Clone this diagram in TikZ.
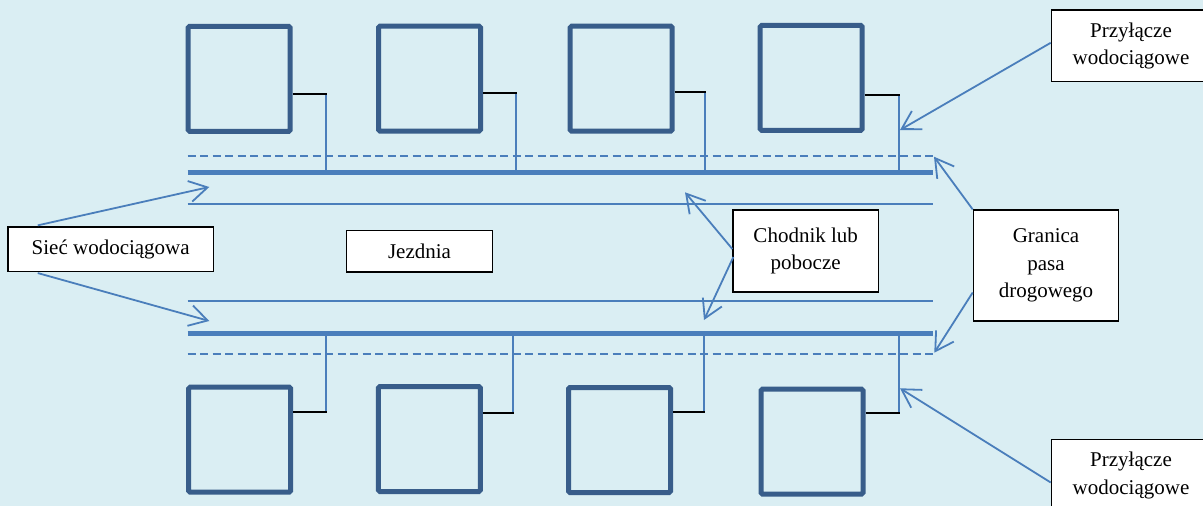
\documentclass[tikz,border=0pt]{standalone}
\usepackage{fontspec}
\setmainfont{Liberation Serif}
\usetikzlibrary{arrows.meta,calc}
\definecolor{bgcol}{HTML}{DAEEF3}
\definecolor{pipecol}{HTML}{4A7EBB}
\definecolor{housecol}{HTML}{385D8A}
\begin{document}
\begin{tikzpicture}[x=1pt,y=-1pt,
  housebox/.style={draw=housecol, line width=5pt, rounded corners=1.5pt, minimum width=102pt, minimum height=105pt, inner sep=0pt},
  textbox/.style={draw=black, line width=1.2pt, fill=white, inner sep=0pt, align=center, font=\fontsize{21}{27.5}\selectfont},
  stubline/.style={draw=black, line width=1.8pt},
  tapline/.style={draw=pipecol, line width=1.8pt},
  mainpipe/.style={draw=pipecol, line width=4.5pt},
  curbline/.style={draw=pipecol, line width=1.8pt},
  limitline/.style={draw=pipecol, line width=1.8pt, dash pattern=on 8pt off 4.5pt},
  pointer/.style={draw=pipecol, line width=1.8pt, -{Straight Barb[length=18pt,width=21pt,line width=1.8pt]}}
]
\clip (0,0) rectangle (1203,506);
\fill[bgcol] (0,0) rectangle (1203,506);

% coordinates of lines
\coordinate (pA) at (187.7,172.3); \coordinate (pB) at (932.7,172.3);
\coordinate (qA) at (187.7,333.7); \coordinate (qB) at (932.7,333.7);
\coordinate (dA) at (187.7,156);   \coordinate (dB) at (932.7,156);
\coordinate (eA) at (187.7,354);   \coordinate (eB) at (932.7,354);
\coordinate (cA) at (187.7,204);   \coordinate (cB) at (932.7,204);
\coordinate (fA) at (187.7,301);   \coordinate (fB) at (932.7,301);

% stub corner points and taps (top)
\coordinate (s1) at (325.7,94);   \coordinate (t1) at (325.7,172.3);
\coordinate (s2) at (515.7,93.3); \coordinate (t2) at (515.7,172.3);
\coordinate (s3) at (705,91.7);   \coordinate (t3) at (705,172.3);
\coordinate (s4) at (899,95);     \coordinate (t4) at (899,172.3);
% bottom
\coordinate (r1) at (325.7,411.7); \coordinate (u1) at (325.7,333.7);
\coordinate (r2) at (513.3,412.7); \coordinate (u2) at (513.3,333.7);
\coordinate (r3) at (704,412.3);   \coordinate (u3) at (704,333.7);
\coordinate (r4) at (899,413.3);   \coordinate (u4) at (899,333.7);

% houses
\node[housebox] (h1) at (239.2,78.8) {};
\node[housebox] (h2) at (429.5,78.7) {};
\node[housebox] (h3) at (621.2,78.7) {};
\node[housebox] (h4) at (811.2,77.9) {};
\node[housebox] (g1) at (239.7,439.7) {};
\node[housebox] (g2) at (429.3,439.0) {};
\node[housebox] (g3) at (619.5,440.0) {};
\node[housebox] (g4) at (812.0,441.7) {};

% taps
\foreach \s/\t in {s1/t1,s2/t2,s3/t3,s4/t4,r1/u1,r2/u2,r3/u3,r4/u4}
  \draw[tapline] (\s) -- (\t);
% black stubs
\foreach \h/\s in {h1/s1,h2/s2,h3/s3,h4/s4,g1/r1,g2/r2,g3/r3,g4/r4}
  \draw[stubline] (\h.east |- \s) -- ($(\s)+(0.9,0)$);

% road lines
\draw[limitline] (dA) -- (dB);
\draw[limitline] (eA) -- (eB);
\draw[curbline] (cA) -- (cB);
\draw[curbline] (fA) -- (fB);
\draw[mainpipe] (pA) -- (pB);
\draw[mainpipe] (qA) -- (qB);

% label boxes
\node[textbox, minimum width=205.5pt, minimum height=44.5pt] (siec) at (110.7,249.2) {Sieć wodociągowa};
\node[textbox, minimum width=145.8pt, minimum height=41.5pt] (jezdnia) at (419.5,251.3) {Jezdnia};
\node[textbox, minimum width=145.5pt, minimum height=82pt] (chodnik) at (805.7,251) {Chodnik lub\\pobocze};
\node[textbox, minimum width=145.4pt, minimum height=111pt] (granica) at (1046,265.5) {Granica\\pasa\\drogowego};
\node[textbox, minimum width=159.4pt, minimum height=71.8pt] (przy1) at (1131,45.8) {Przyłącze\\wodociągowe};
\node[textbox, minimum width=159.4pt, minimum height=71.8pt] (przy2) at (1131,475.5) {Przyłącze\\wodociągowe};

% arrow targets
\coordinate (a1) at (209.3,187);
\coordinate (a2) at (209.3,321);
\coordinate (a3) at (685,192.3);
\coordinate (a4) at (704,320);
\coordinate (a5) at (934,156.7);
\coordinate (a6) at (934.3,352.7);
\coordinate (a7) at (900,130);
\coordinate (a8) at (900,388.3);

% pointers
\draw[pointer] ($(siec.north west)+(30.4,-1)$) -- (a1);
\draw[pointer] ($(siec.south west)+(30.4,1)$) -- (a2);
\draw[pointer] ($(chodnik.west)+(0,-2)$) -- (a3);
\draw[pointer] ($(chodnik.west)+(1,6)$) -- (a4);
\draw[pointer] (granica.north west) -- (a5);
\draw[pointer] ($(granica.west)+(0,27)$) -- (a6);
\draw[pointer] ($(przy1.west)+(0,-3)$) -- (a7);
\draw[pointer] ($(przy2.west)+(0,7)$) -- (a8);
\end{tikzpicture}
\end{document}
